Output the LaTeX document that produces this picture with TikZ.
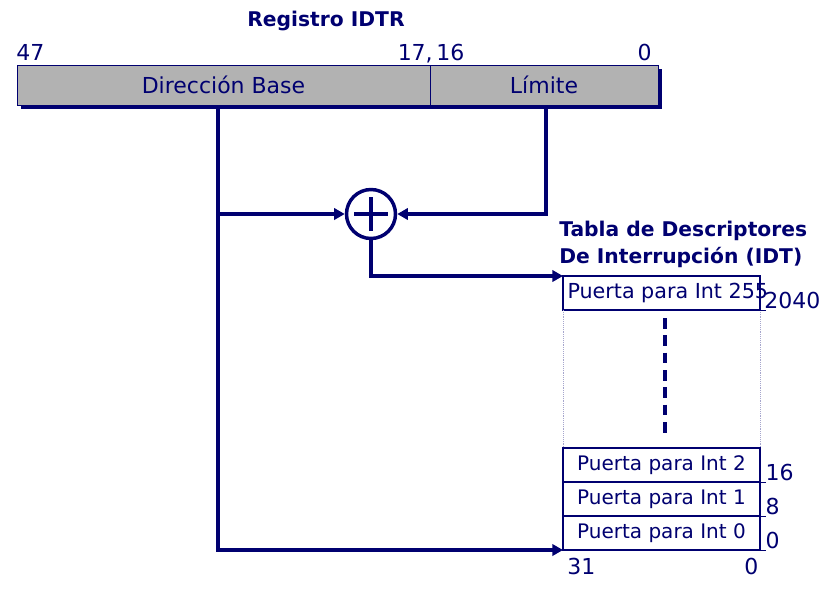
\documentclass[tikz,border=0pt]{standalone}
\usepackage{fontspec}
\setmainfont{DejaVu Sans}
\usetikzlibrary{arrows.meta, positioning}
\definecolor{navy}{RGB}{0,0,112}

\begin{document}
\begin{tikzpicture}[x=0.75pt, y=-0.75pt, navy,
    reg/.style={rectangle, draw=navy, thin, fill=black!30, inner sep=0pt, outer sep=0pt, minimum height=30pt, font=\fontsize{16.5}{19}\selectfont, text=navy},
    gate/.style={rectangle, draw=navy, line width=2.2pt, fill=white, inner sep=3pt, outer sep=0pt, minimum width=147.75pt, minimum height=25.5pt, font=\fontsize{15}{17}\selectfont, text=navy},
    num/.style={inner sep=0pt, font=\fontsize{16.5}{19}\selectfont, text=navy},
    ttl/.style={inner sep=0pt, font=\fontsize{15.2}{20.5}\selectfont\bfseries, text=navy},
    conn/.style={draw=navy, line width=3pt},
    tip/.style={-{Triangle[length=8pt, width=8.5pt]}}
]
\useasboundingbox (0,0) rectangle (834,608);

% Register
\node[ttl] (regtitle) at (326,21) {Registro IDTR};
\fill[navy] (21,69) rectangle (662,109);
\node[reg, anchor=north west, minimum width=309.75pt] (base) at (17,65) {Dirección Base};
\node[reg, anchor=north west, minimum width=171pt] (limite) at (base.north east) {Límite};

\node[num, anchor=base west] (b47) at (16,60) {47};
\node[num, anchor=base east] (b17) at (433,60) {17,};
\node[num, anchor=base west] (b16) at (436,60) {16};
\node[num, anchor=base east] (b0) at (652,60) {0};

% Adder
\node[circle, draw=navy, line width=2.6pt, minimum size=36.75pt, inner sep=0pt] (sum) at (371,214) {};
\draw[navy, line width=2.6pt] (sum.center) +(0,-17) -- +(0,17);
\draw[navy, line width=2.6pt] (sum.center) +(-17,0) -- +(17,0);

% IDT
\node[gate, anchor=north west] (g255) at (563,276)
    {\fontsize{15.5}{19}\selectfont\makebox[141pt][l]{Puerta para Int 255}};
\node[gate, anchor=south west] (g0) at (563,550) {Puerta para Int 0};
\node[gate, above=0pt of g0] (g1) {Puerta para Int 1};
\node[gate, above=0pt of g1] (g2) {Puerta para Int 2};

\node[ttl, anchor=south west, align=left] (idt) at ([xshift=-3pt, yshift=6pt]g255.north west)
    {Tabla de Descriptores\\De Interrupción (IDT)};

\draw[navy!35, thin, densely dotted] (g255.south west) -- (g2.north west);
\draw[navy!35, thin, densely dotted] (g255.south east) -- (g2.north east);
\draw[navy, line width=2.5pt, dash pattern=on 8pt off 5pt, shorten <=6pt, shorten >=11pt]
    ([xshift=2.5pt]g255.south) -- ([xshift=2.5pt]g2.north);

% offsets
\foreach \g in {g255, g2, g1, g0}
    \draw[navy, thin] (\g.south east) -- +(6,0);
\node[num, anchor=base west] (o2040) at ([xshift=3pt, yshift=1pt]g255.south east) {2040};
\node[num, anchor=base west] (o16) at ([xshift=4pt, yshift=1.5pt]g2.south east) {16};
\node[num, anchor=base west] (o8) at ([xshift=4pt, yshift=1.5pt]g1.south east) {8};
\node[num, anchor=base west] (o0) at ([xshift=4pt, yshift=1.5pt]g0.south east) {0};
\node[num, anchor=north west] (w31) at ([xshift=3pt, yshift=-6pt]g0.south west) {31};
\node[num, anchor=north east] (w0) at ([xshift=-1pt, yshift=-6pt]g0.south east) {0};

% Connectors
\coordinate (bdown) at ([xshift=-4pt]base.south);
\draw[conn, tip] (bdown) |- (g0.south west);
\draw[conn, tip] (bdown |- sum.west) -- (sum.west);
\draw[conn, tip] ([xshift=1.5pt]limite.south) |- (sum.east);
\draw[conn, tip] (sum.south) |- (g255.north west);

\end{tikzpicture}
\end{document}
